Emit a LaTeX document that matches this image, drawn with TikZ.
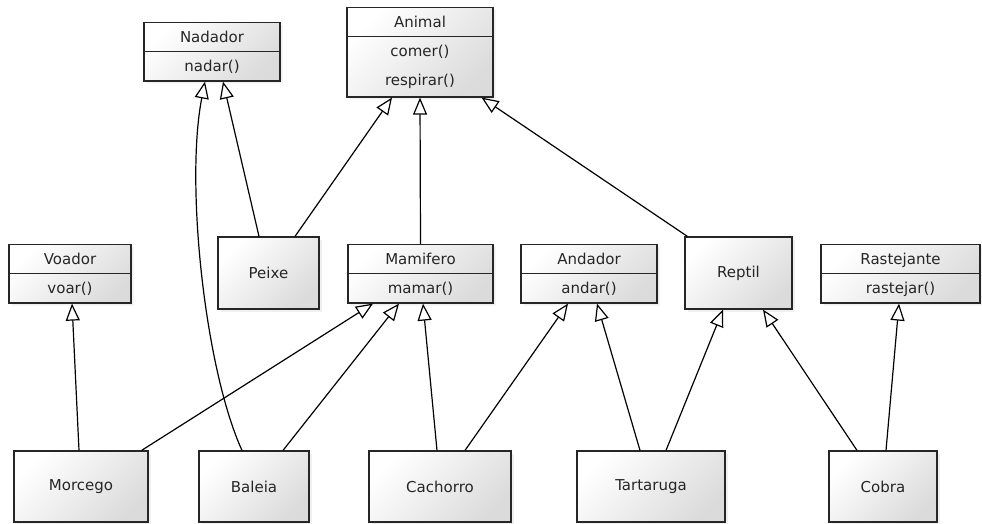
\documentclass[tikz,border=0pt]{standalone}
\usepackage{fontspec}
\setmainfont{DejaVu Sans}
\usetikzlibrary{shapes.multipart, arrows.meta, shadows, positioning}

\newcommand{\rowstrut}{\rule[-9pt]{0pt}{28pt}}

\begin{document}
\begin{tikzpicture}[x=1pt, y=-1pt,
    basebox/.style={draw=black!85, line width=1.2pt, top color=white, bottom color=black!14, shading angle=45, drop shadow={shadow xshift=2.5pt, shadow yshift=-2.5pt, opacity=0.12}, text=black!85, font=\fontsize{15}{27}\selectfont, inner sep=0pt},
    classbox/.style={basebox, rectangle split, rectangle split parts=2, anchor=north, align=center},
    plainbox/.style={basebox, rectangle, minimum height=72pt},
    inherit/.style={draw, line width=1.2pt, -{Triangle[length=17pt, width=14pt, fill=white]}}]

    \useasboundingbox (0,0) rectangle (982,524);

    % classes with operations
    \node [classbox, text width=136pt] (nadador) at (212,22) {\rowstrut Nadador \nodepart{second}\rowstrut nadar()};
    \node [classbox, text width=146pt] (animal) at (420,7) {\rowstrut Animal \nodepart{second}\rowstrut comer()\\\rule[-11pt]{0pt}{30pt}respirar()};
    \node [classbox, text width=122pt] (voador) at (70,244) {\rowstrut Voador \nodepart{second}\rowstrut voar()};
    \node [classbox, text width=145pt] (mamifero) at (420.5,244) {\rowstrut Mamifero \nodepart{second}\rowstrut mamar()};
    \node [classbox, text width=136pt] (andador) at (589,244) {\rowstrut Andador \nodepart{second}\rowstrut andar()};
    \node [classbox, text width=159pt] (rastejante) at (900.5,244) {\rowstrut Rastejante \nodepart{second}\rowstrut rastejar()};

    % plain classes
    \node [plainbox, minimum width=101pt] (peixe) at (268.5,273) {Peixe};
    \node [plainbox, minimum width=107pt] (reptil) at (738.5,273) {Reptil};
    \node [plainbox, minimum width=134pt, minimum height=71pt] (morcego) at (81,486.5) {Morcego};
    \node [plainbox, minimum width=110pt, minimum height=71pt] (baleia) at (254,486.5) {Baleia};
    \node [plainbox, minimum width=142pt, minimum height=71pt] (cachorro) at (440,486.5) {Cachorro};
    \node [plainbox, minimum width=148pt, minimum height=71pt] (tartaruga) at (651,486.5) {Tartaruga};
    \node [plainbox, minimum width=108pt, minimum height=71pt] (cobra) at (883,486.5) {Cobra};

    % generalizations
    \path [inherit] ([xshift=-9.5pt]peixe.north) -- ([xshift=11pt]nadador.south);
    \path [inherit] ([xshift=26.5pt]peixe.north) -- ([xshift=-28pt]animal.south);
    \path [inherit] (mamifero.north) -- (animal.south);
    \path [inherit] ([xshift=3pt]reptil.north west) -- ([xshift=-12pt]animal.south east);
    \path [inherit] ([xshift=-2pt]morcego.north) -- ([xshift=2pt]voador.south);
    \path [inherit] ([xshift=-7pt]morcego.north east) -- ([xshift=-47.5pt]mamifero.south);
    \path [inherit] ([xshift=-12pt]baleia.north) .. controls +(-37,-81) and +(-20,102) .. ([xshift=-7pt]nadador.south);
    \path [inherit] ([xshift=29pt]baleia.north) -- ([xshift=-21.5pt]mamifero.south);
    \path [inherit] ([xshift=-3pt]cachorro.north) -- ([xshift=2.5pt]mamifero.south);
    \path [inherit] ([xshift=25pt]cachorro.north) -- ([xshift=-21pt]andador.south);
    \path [inherit] ([xshift=-11pt]tartaruga.north) -- ([xshift=8pt]andador.south);
    \path [inherit] ([xshift=15pt]tartaruga.north) -- ([xshift=-15.5pt]reptil.south);
    \path [inherit] ([xshift=-26pt]cobra.north) -- ([xshift=24.5pt]reptil.south);
    \path [inherit] ([xshift=3pt]cobra.north) -- ([xshift=-1.5pt]rastejante.south);
\end{tikzpicture}
\end{document}
